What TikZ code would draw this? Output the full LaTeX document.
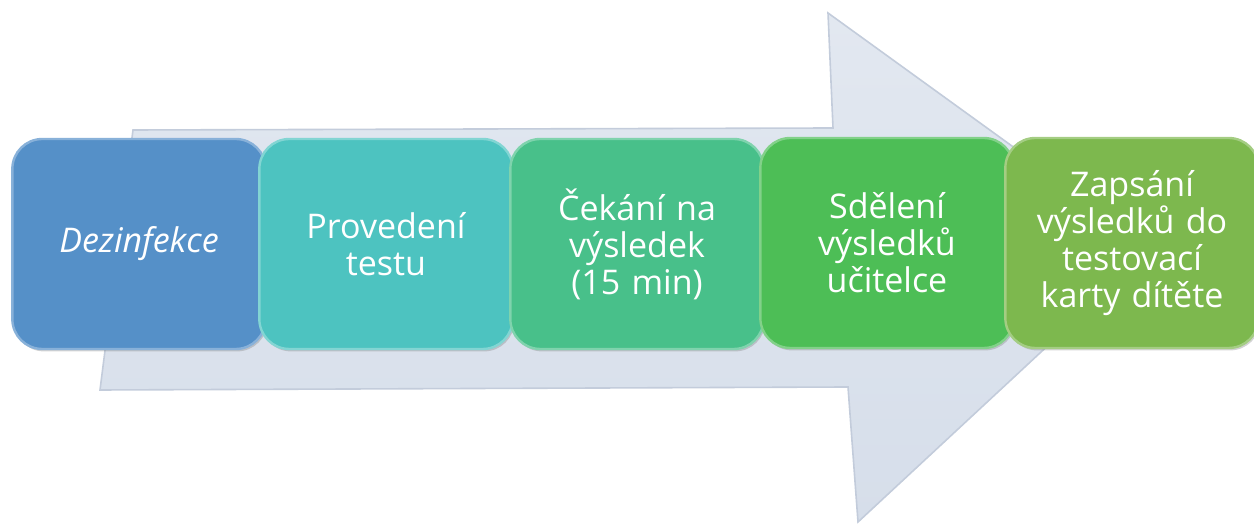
\documentclass[tikz,border=0pt]{standalone}
\usepackage{fontspec}
\setmainfont{Open Sans}
\usepackage{tikz}
\usetikzlibrary{shadows}
\definecolor{arrowfill}{HTML}{D6DEEA}
\definecolor{arrowedge}{HTML}{C3CCDB}
\definecolor{boxA}{HTML}{5590C8}
\definecolor{boxB}{HTML}{4DC3C0}
\definecolor{boxC}{HTML}{48C08A}
\definecolor{boxD}{HTML}{4DBE56}
\definecolor{boxE}{HTML}{7DB84E}

\begin{document}
\begin{tikzpicture}[x=0.5pt,y=-0.5pt]
\tikzstyle{stage} =[rounded corners=15pt, minimum width=121pt, minimum height=105pt, text width=120pt, align=center, text=white, font=\fontsize{17}{18.5}\selectfont, line width=1.2pt, drop shadow={shadow xshift=0.8pt, shadow yshift=-1.2pt, opacity=0.35}]
\useasboundingbox (0,0) rectangle (1254,528);

% big arrow behind the steps
\coordinate (s1) at (133,130);
\coordinate (s2) at (833,128);
\coordinate (h1) at (828,13);
\coordinate (tip) at (1153,248);
\coordinate (h2) at (858,522);
\coordinate (s3) at (848,387);
\coordinate (s4) at (100,390);
\fill[top color=arrowfill!70!white, bottom color=arrowfill, draw=arrowedge, line width=0.8pt] (s1) -- (s2) -- (h1) -- (tip) -- (h2) -- (s3) -- (s4) -- cycle;

\node[stage, fill=boxA, draw=boxA!70!white, font=\fontsize{17}{18.5}\selectfont\itshape](d1) at (139,244){Dezinfekce};
\node[stage, fill=boxB, draw=boxB!70!white](d2) at (386,244){Provedení\\testu};
\node[stage, fill=boxC, draw=boxC!70!white](d3) at (637,244){Čekání na\\výsledek\\(15 min)};
\node[stage, fill=boxD, draw=boxD!70!white](d4) at (887,243){Sdělení\\výsledků\\učitelce};
\node[stage, fill=boxE, draw=boxE!70!white](d5) at (1132,243){Zapsání\\výsledků do\\testovací\\karty dítěte};
\end{tikzpicture}
\end{document}
